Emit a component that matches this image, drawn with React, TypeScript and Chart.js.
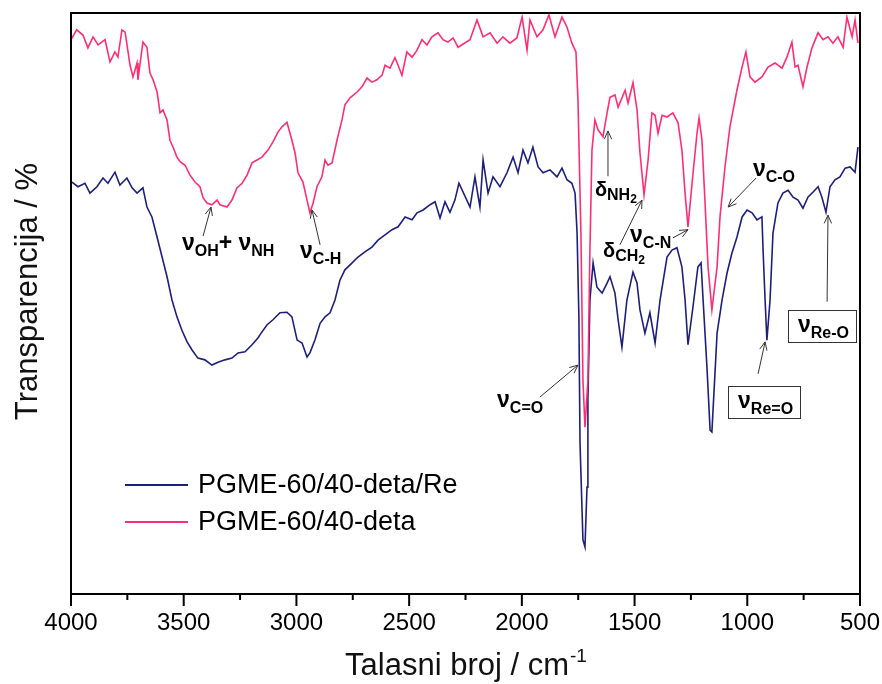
import React, { useEffect, useRef } from 'react';
import { Chart, registerables } from 'chart.js';

Chart.register(...registerables);

// ---------- data ----------
const seriesLabels = ['PGME-60/40-deta/Re', 'PGME-60/40-deta'];

const blueWavenumber = [
  3996, 3969, 3938, 3916, 3885, 3858, 3836, 3805, 3783, 3752, 3729, 3707, 3681, 3663, 3641, 3618, 3596, 3574,
  3552, 3530, 3508, 3485, 3463, 3437, 3406, 3375, 3348, 3317, 3286, 3259, 3228, 3197, 3170, 3162, 3131, 3104,
  3073, 3042, 3020, 2997, 2975, 2953, 2940, 2918, 2895, 2873, 2851, 2829, 2807, 2785, 2753, 2727, 2696, 2665,
  2638, 2607, 2576, 2549, 2518, 2487, 2465, 2438, 2407, 2385, 2363, 2341, 2319, 2297, 2279, 2230, 2208, 2186,
  2172, 2150, 2128, 2097, 2066, 2039, 2017, 1995, 1973, 1951, 1928, 1906, 1875, 1844, 1822, 1800, 1778, 1764,
  1755, 1747, 1742, 1729, 1720, 1711, 1707, 1698, 1684, 1667, 1644, 1622, 1609, 1587, 1573, 1556, 1534, 1507,
  1489, 1476, 1454, 1432, 1409, 1387, 1356, 1334, 1312, 1290, 1276, 1263, 1241, 1219, 1205, 1196, 1179, 1165,
  1157, 1134, 1112, 1090, 1068, 1046, 1023, 1001, 979, 957, 935, 930, 921, 913, 899, 886, 864, 842, 819, 797,
  775, 753, 731, 708, 686, 669, 651, 633, 611, 589, 566, 544, 522, 509,
];
const blueTransmittance = [
  70.9, 70.1, 70.7, 69.0, 70.1, 71.6, 70.7, 72.6, 70.4, 71.6, 69.9, 69.0, 69.9, 66.6, 64.9, 61.4, 58.0, 54.6,
  50.6, 47.7, 45.4, 43.4, 42.0, 40.6, 40.3, 39.4, 39.9, 40.3, 40.6, 41.5, 41.7, 42.9, 44.1, 44.6, 46.3, 47.2,
  48.4, 48.5, 47.7, 43.7, 43.2, 40.8, 41.5, 43.7, 46.6, 47.7, 48.4, 50.6, 54.0, 55.8, 57.0, 58.0, 58.9, 59.7,
  60.9, 61.8, 62.7, 63.2, 64.9, 64.4, 65.6, 66.1, 67.0, 67.5, 64.7, 67.5, 65.7, 67.8, 70.7, 66.6, 71.8, 66.6,
  74.7, 69.0, 71.8, 70.1, 72.5, 75.2, 72.5, 76.4, 74.2, 76.9, 73.5, 72.5, 73.0, 71.8, 73.3, 71.3, 70.7, 69.0,
  62.1, 47.7, 26.0, 9.3, 8.1, 18.4, 33.4, 50.6, 57.0, 52.8, 51.8, 53.5, 54.6, 51.8, 47.2, 42.5, 50.6, 55.4,
  53.5, 48.9, 44.9, 48.4, 43.2, 50.6, 58.0, 59.2, 59.6, 56.3, 50.6, 42.9, 49.4, 56.3, 57.0, 50.6, 39.1, 28.2,
  27.9, 44.9, 50.6, 55.2, 58.7, 61.4, 64.9, 66.1, 65.6, 64.4, 64.9, 59.2, 50.6, 43.7, 50.6, 62.1, 67.3, 69.0, 69.5, 68.3,
  67.8, 66.4, 68.3, 69.2, 70.1, 68.3, 65.7, 70.1, 71.3, 71.8, 73.3, 73.5, 72.6, 76.9,
];

const pinkWavenumber = [
  3997, 3975, 3947, 3925, 3902, 3880, 3849, 3827, 3805, 3792, 3774, 3760, 3738, 3725, 3707, 3703, 3681, 3663,
  3650, 3636, 3618, 3605, 3592, 3574, 3561, 3547, 3530, 3516, 3494, 3472, 3450, 3428, 3414, 3397, 3375, 3352,
  3339, 3308, 3286, 3264, 3241, 3219, 3197, 3175, 3153, 3126, 3104, 3082, 3064, 3042, 3020, 3006, 2993, 2971,
  2953, 2940, 2926, 2909, 2887, 2873, 2860, 2842, 2820, 2798, 2785, 2762, 2731, 2709, 2687, 2665, 2643, 2620,
  2607, 2585, 2563, 2549, 2532, 2510, 2487, 2465, 2443, 2421, 2399, 2372, 2350, 2328, 2305, 2283, 2230, 2199,
  2172, 2141, 2110, 2084, 2053, 2022, 1999, 1977, 1964, 1933, 1906, 1880, 1853, 1822, 1800, 1778, 1760, 1751,
  1738, 1729, 1720, 1707, 1698, 1689, 1676, 1662, 1640, 1622, 1609, 1587, 1573, 1542, 1529, 1507, 1489, 1476,
  1458, 1440, 1423, 1409, 1396, 1378, 1356, 1330, 1307, 1290, 1276, 1263, 1245, 1223, 1214, 1201, 1188, 1174,
  1157, 1134, 1121, 1099, 1077, 1046, 1023, 1006, 988, 966, 935, 908, 877, 846, 824, 802, 788, 775, 753, 735,
  713, 686, 664, 642, 620, 598, 575, 558, 535, 522, 509,
];
const pinkTransmittance = [
  95.6, 97.1, 96.2, 94.0, 95.9, 94.5, 95.4, 91.6, 93.3, 92.4, 97.1, 96.7, 91.0, 89.0, 91.4, 88.5, 95.0, 94.1,
  89.7, 88.5, 86.4, 82.8, 83.3, 81.6, 78.1, 76.9, 75.2, 74.4, 73.8, 72.1, 70.9, 70.1, 68.2, 67.3, 67.0, 67.8,
  67.0, 66.6, 67.8, 69.9, 70.7, 72.1, 74.2, 74.7, 75.2, 76.4, 77.8, 79.5, 80.4, 81.2, 78.1, 75.9, 72.5, 70.9,
  67.8, 65.6, 67.3, 70.1, 71.8, 74.7, 73.8, 74.2, 78.1, 81.6, 84.2, 85.4, 86.4, 87.3, 88.8, 88.1, 88.5, 89.3,
  91.0, 90.5, 92.3, 91.0, 89.3, 93.3, 92.4, 93.6, 95.4, 94.5, 95.9, 96.6, 95.4, 95.0, 95.7, 94.1, 95.4, 98.8,
  95.9, 96.6, 94.8, 95.9, 94.8, 95.7, 99.3, 93.6, 98.8, 95.9, 97.1, 99.7, 95.9, 99.3, 97.6, 94.8, 93.3, 85.0,
  62.1, 36.8, 28.7, 36.8, 59.2, 76.4, 81.6, 79.9, 78.7, 82.8, 85.5, 85.9, 83.8, 86.7, 84.5, 88.0, 83.3, 75.9,
  68.7, 74.7, 82.8, 82.4, 79.3, 82.4, 82.1, 82.8, 81.1, 76.4, 69.0, 63.2, 70.7, 79.3, 81.9, 78.1, 67.8, 56.3,
  48.9, 56.3, 64.9, 73.5, 80.4, 86.7, 90.7, 93.3, 89.0, 88.1, 89.0, 90.7, 91.4, 90.5, 92.4, 95.0, 90.7, 91.0, 87.3, 90.7,
  94.0, 96.6, 95.4, 95.9, 94.8, 95.9, 94.1, 99.3, 95.9, 98.8, 94.8,
];

const xMin = 500;
const xMax = 4000;
const xStep = 250;
const xLabelEvery = 500;
const yMin = 0;
const yMax = 100;

const xTitle = 'Talasni broj / cm';
const xTitleSup = '-1';
const yTitle = 'Transparencija / %';

// annotation labels: parts are [text, style level]; anchor is (wavenumber, value) of text baseline-left
type Part = [string, string];
const bandLabels: { parts: Part[]; at: [number, number]; tail: [number, number]; tip: [number, number]; box?: boolean }[] = [
  { parts: [['ν', 'b'], ['OH', 's'], ['+', 'b'], [' ν', 'b'], ['NH', 's']], at: [3508, 59.2], tail: [3414, 61.6], tip: [3379, 66.6] },
  { parts: [['ν', 'b'], ['C-H', 's']], at: [2984, 57.8], tail: [2895, 60.1], tip: [2931, 66.1] },
  { parts: [['δ', 'd'], ['NH', 'ds'], ['2', 'dss']], at: [1676, 68.5], tail: [1618, 71.9], tip: [1618, 79.7] },
  { parts: [['δ', 'd'], ['CH', 'ds'], ['2', 'dss']], at: [1640, 58.0], tail: [1565, 60.1], tip: [1467, 67.8] },
  { parts: [['ν', 'b'], ['C-N', 's']], at: [1520, 60.6], tail: [1330, 61.3], tip: [1263, 62.7] },
  { parts: [['ν', 'b'], ['C-O', 's']], at: [975, 71.9], tail: [961, 71.6], tip: [1085, 66.6] },
  { parts: [['ν', 'b'], ['C=O', 's']], at: [2110, 32.2], tail: [1920, 33.9], tip: [1751, 39.4] },
  { parts: [['ν', 'b'], ['Re=O', 's']], at: [1041, 32.0], tail: [952, 37.9], tip: [921, 43.4], box: true },
  { parts: [['ν', 'b'], ['Re-O', 's']], at: [775, 45.1], tail: [646, 50.3], tip: [642, 65.2], box: true },
];

// ---------- styles ----------
const BLUE = '#1d1f7d';
const PINK = '#ff2e72';
const FONT = '"Liberation Sans", Arial, Helvetica, sans-serif';
const PART_STYLE: Record<string, { size: number; dy: number }> = {
  b: { size: 23, dy: 0 },
  s: { size: 16, dy: 6 },
  d: { size: 20, dy: 0 },
  ds: { size: 16, dy: 4 },
  dss: { size: 12, dy: 7 },
};

function drawParts(ctx: CanvasRenderingContext2D, parts: Part[], x: number, y: number): number {
  let cx = x;
  for (const [t, lv] of parts) {
    const s = PART_STYLE[lv];
    ctx.font = `bold ${s.size}px ${FONT}`;
    ctx.fillText(t, cx, y + s.dy);
    cx += ctx.measureText(t).width;
  }
  return cx - x;
}

function drawArrow(ctx: CanvasRenderingContext2D, x1: number, y1: number, x2: number, y2: number) {
  const a = Math.atan2(y2 - y1, x2 - x1);
  const h = 9;
  const spread = 0.42;
  ctx.beginPath();
  ctx.moveTo(x1, y1);
  ctx.lineTo(x2, y2);
  ctx.moveTo(x2 - h * Math.cos(a - spread), y2 - h * Math.sin(a - spread));
  ctx.lineTo(x2, y2);
  ctx.lineTo(x2 - h * Math.cos(a + spread), y2 - h * Math.sin(a + spread));
  ctx.stroke();
}

const decorPlugin = {
  id: 'decor',
  afterDraw(chart: any) {
    const { ctx, chartArea } = chart;
    const xs = chart.scales.x;
    const ys = chart.scales.y;
    const { left, right, top, bottom } = chartArea;
    ctx.save();

    // frame
    ctx.strokeStyle = '#000';
    ctx.lineWidth = 2;
    ctx.strokeRect(left, top, right - left, bottom - top);

    // major / minor ticks (outward)
    ctx.beginPath();
    for (const t of xs.ticks) {
      const px = xs.getPixelForValue(t.value);
      const len = t.value % xLabelEvery === 0 ? 12 : 6;
      ctx.moveTo(px, bottom);
      ctx.lineTo(px, bottom + len);
    }
    ctx.stroke();

    // band labels with arrows
    ctx.fillStyle = '#000';
    ctx.textAlign = 'left';
    ctx.textBaseline = 'alphabetic';
    for (const lb of bandLabels) {
      const tx = xs.getPixelForValue(lb.at[0]);
      const ty = ys.getPixelForValue(lb.at[1]);
      const w = drawParts(ctx, lb.parts, tx, ty);
      if (lb.box) {
        ctx.strokeStyle = '#333';
        ctx.lineWidth = 1;
        ctx.strokeRect(Math.round(tx - 10) + 0.5, Math.round(ty - 22) + 0.5, Math.round(w + 17), 32);
      }
      ctx.strokeStyle = '#333';
      ctx.lineWidth = 1;
      drawArrow(
        ctx,
        xs.getPixelForValue(lb.tail[0]), ys.getPixelForValue(lb.tail[1]),
        xs.getPixelForValue(lb.tip[0]), ys.getPixelForValue(lb.tip[1]),
      );
    }

    // legend
    const datasets = chart.data.datasets;
    datasets.forEach((ds: any, i: number) => {
      const ly = top + 472 + i * 37;
      ctx.strokeStyle = ds.borderColor;
      ctx.lineWidth = 2;
      ctx.beginPath();
      ctx.moveTo(left + 54, ly);
      ctx.lineTo(left + 117, ly);
      ctx.stroke();
      ctx.fillStyle = '#000';
      ctx.font = `27px ${FONT}`;
      ctx.textBaseline = 'middle';
      ctx.fillText(ds.label, left + 127, ly + 1);
    });

    // x title with superscript
    ctx.fillStyle = '#111';
    ctx.textBaseline = 'alphabetic';
    ctx.font = `31px ${FONT}`;
    const wMain = ctx.measureText(xTitle).width;
    ctx.font = `19px ${FONT}`;
    const wSup = ctx.measureText(xTitleSup).width;
    const startX = (left + right) / 2 - (wMain + wSup) / 2;
    const baseY = bottom + 81;
    ctx.font = `31px ${FONT}`;
    ctx.fillText(xTitle, startX, baseY);
    ctx.font = `19px ${FONT}`;
    ctx.fillText(xTitleSup, startX + wMain + 1, baseY - 13);

    // y title
    ctx.save();
    ctx.translate(28, (top + bottom) / 2 - 12);
    ctx.rotate(-Math.PI / 2);
    ctx.font = `31px ${FONT}`;
    ctx.textAlign = 'center';
    ctx.textBaseline = 'middle';
    ctx.fillText(yTitle, 0, 0);
    ctx.restore();

    ctx.restore();
  },
};

export default function App() {
  const canvasRef = useRef<HTMLCanvasElement | null>(null);

  useEffect(() => {
    const canvas = canvasRef.current;
    if (!canvas) return;
    const chart = new Chart(canvas, {
      type: 'line',
      data: {
        datasets: [
          {
            label: seriesLabels[0],
            data: blueWavenumber.map((x, i) => ({ x, y: blueTransmittance[i] })),
            borderColor: BLUE,
            borderWidth: 1.6,
            pointRadius: 0,
            tension: 0,
            order: 1,
          },
          {
            label: seriesLabels[1],
            data: pinkWavenumber.map((x, i) => ({ x, y: pinkTransmittance[i] })),
            borderColor: PINK,
            borderWidth: 1.6,
            pointRadius: 0,
            tension: 0,
            order: 0,
          },
        ],
      },
      options: {
        animation: false,
        responsive: false,
        layout: { padding: { left: 71, right: 22, top: 13, bottom: 0 } },
        plugins: { legend: { display: false }, tooltip: { enabled: false } },
        scales: {
          x: {
            type: 'linear',
            reverse: true,
            min: xMin,
            max: xMax,
            afterFit: (s: any) => {
              s.height = 90;
              s.paddingLeft = 0;
              s.paddingRight = 0;
            },
            grid: { display: false, drawTicks: false },
            border: { display: false },
            ticks: {
              stepSize: xStep,
              autoSkip: false,
              maxRotation: 0,
              padding: 15,
              color: '#000',
              font: { family: FONT, size: 24 },
              callback: (v: any) => (Number(v) % xLabelEvery === 0 ? String(v) : ''),
            },
          },
          y: { display: false, min: yMin, max: yMax },
        },
      },
      plugins: [decorPlugin],
    } as any);
    return () => chart.destroy();
  }, []);

  return (
    <div style={{ position: 'fixed', left: 0, top: 0, width: 882, height: 684, background: '#fff' }}>
      <canvas ref={canvasRef} width={882} height={684} style={{ display: 'block', width: 882, height: 684 }} />
    </div>
  );
}
